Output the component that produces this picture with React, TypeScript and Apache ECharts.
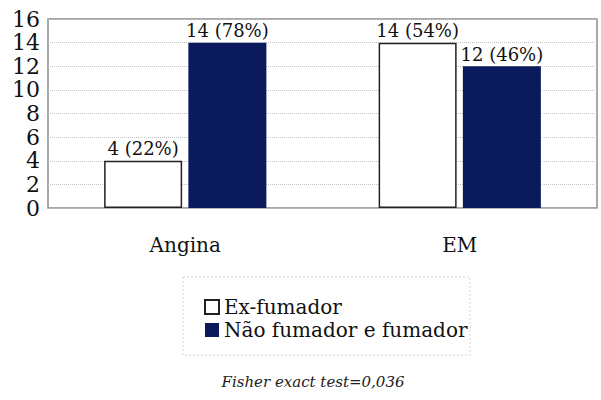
import React, { useEffect, useRef } from "react";
import * as echarts from "echarts";

const categories = ["Angina", "EM"];
const seriesNames = ["Ex-fumador", "Não fumador e fumador"];
const exFumador = [4, 14];
const naoFumador = [14, 12];
const exPercent = [22, 54];
const naoPercent = [78, 46];
const yTicks = { min: 0, max: 16, interval: 2 };
const footnote = "Fisher exact test=0,036";

const FONT = "DejaVu Serif";
const NAVY = "#0b1a5c";

export default function App() {
  const ref = useRef<HTMLDivElement>(null);
  useEffect(() => {
    if (!ref.current) return;
    const chart = echarts.init(ref.current, null, { renderer: "svg" });
    const mkLabel = (pcts: number[]) => ({
      show: true,
      position: "top",
      distance: 3,
      fontFamily: FONT,
      fontSize: 18,
      color: "#111",
      formatter: (p: any) => `${p.value} (${pcts[p.dataIndex]}%)`,
    });
    chart.setOption({
      animation: false,
      backgroundColor: "#fff",
      textStyle: { fontFamily: FONT },
      grid: { left: 48, right: 4, top: 19, bottom: 192, show: true, borderColor: "#8a8a8a", borderWidth: 1.5 },
      xAxis: {
        type: "category",
        data: categories,
        axisTick: { show: false },
        axisLine: { show: false },
        axisLabel: { fontFamily: FONT, fontSize: 20, color: "#111", margin: 27 },
      },
      yAxis: {
        type: "value",
        min: yTicks.min,
        max: yTicks.max,
        interval: yTicks.interval,
        axisLine: { show: false },
        axisTick: { show: false },
        axisLabel: { fontFamily: FONT, fontSize: 22, color: "#111", margin: 8, showMinLabel: true, showMaxLabel: true, hideOverlap: false },
        splitLine: { show: true, lineStyle: { color: "#c4c4c4", type: "dotted", width: 1 } },
      },
      legend: {
        orient: "vertical",
        left: 199,
        top: 292,
        itemWidth: 14,
        itemHeight: 14,
        itemGap: 3,
        icon: "rect",
        textStyle: { fontFamily: FONT, fontSize: 20, color: "#111" },
        data: seriesNames,
      },
      series: [
        {
          name: seriesNames[0],
          type: "bar",
          data: exFumador,
          barWidth: 78,
          barGap: "8%",
          itemStyle: { color: "#fff", borderColor: "#222", borderWidth: 1.5 },
          label: mkLabel(exPercent),
        },
        {
          name: seriesNames[1],
          type: "bar",
          data: naoFumador,
          barWidth: 78,
          itemStyle: { color: NAVY },
          label: mkLabel(naoPercent),
        },
      ],
      graphic: [
        {
          type: "rect",
          shape: { x: 183, y: 277, width: 287, height: 78 },
          style: { fill: "none", stroke: "#d4d4d4", lineWidth: 1, lineDash: [2, 2] },
          z: -1,
        },
        {
          type: "text",
          x: 313,
          y: 382,
          style: {
            text: footnote,
            fontFamily: FONT,
            fontStyle: "italic",
            fontSize: 15,
            fill: "#222",
            align: "center",
            verticalAlign: "middle",
          },
        },
      ],
    });
    return () => chart.dispose();
  }, []);
  return <div ref={ref} style={{ width: 601, height: 400, position: "absolute", left: 0, top: 0 }} />;
}
